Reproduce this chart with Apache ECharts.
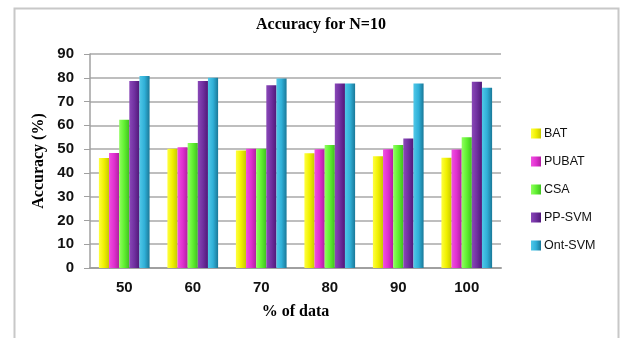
<!DOCTYPE html>
<html><head><meta charset="utf-8">
<script src="https://cdn.jsdelivr.net/npm/echarts@6/dist/echarts.min.js"></script>
<style>html,body{margin:0;padding:0;background:#fff}#c{width:621px;height:338px}</style>
</head><body><div id="c"></div>
<script>
const categories = ['50','60','70','80','90','100'];
const seriesNames = ['BAT','PUBAT','CSA','PP-SVM','Ont-SVM'];
const BAT = [46.3, 50.2, 49.4, 48.3, 47.0, 46.4];
const PUBAT = [48.4, 50.8, 50.1, 49.9, 49.9, 49.8];
const CSA = [62.4, 52.6, 50.1, 51.7, 51.7, 55.0];
const PPSVM = [78.6, 78.6, 76.9, 77.6, 54.5, 78.3];
const OntSVM = [80.8, 80.0, 79.7, 77.6, 77.6, 75.8];
const yTicks = [0,10,20,30,40,50,60,70,80,90];

const values = [BAT, PUBAT, CSA, PPSVM, OntSVM];
const colors = [
  ['#ffff40','#f0f000','#c8c800'],
  ['#f050e0','#e030d0','#b020a0'],
  ['#90ff60','#60f030','#40c020'],
  ['#8a48b8','#7030a0','#501878'],
  ['#50c8e8','#30b0d8','#1a7898']
];
const serif = 'Liberation Serif';
const chart = echarts.init(document.getElementById('c'));
chart.setOption({
  animation:false,
  title:{text:'Accuracy for N=10',left:316,top:12,textAlign:'center',
    textStyle:{fontFamily:serif,fontWeight:'bold',fontSize:16,color:'#000'}},
  graphic:[{type:'rect',left:12,top:6,shape:{width:604,height:360},
    style:{fill:'none',stroke:'#c8c8c8',lineWidth:2},silent:true}],
  legend:{orient:'vertical',left:526,top:122,itemWidth:10,itemHeight:10,itemGap:15,
    icon:'rect',textStyle:{fontFamily:'Liberation Sans',fontSize:12.5,color:'#111',padding:[0,0,0,-2]},
    data:seriesNames},
  grid:{left:90,right:120,top:54,bottom:70},
  xAxis:{type:'category',data:categories,
    axisLine:{lineStyle:{color:'#a0a0a0',width:2}},axisTick:{show:false},
    axisLabel:{fontFamily:'Liberation Sans',fontWeight:'bold',fontSize:15,color:'#111',margin:12},
    name:'% of data',nameLocation:'middle',nameGap:36,
    nameTextStyle:{fontFamily:serif,fontWeight:'bold',fontSize:16,color:'#000'}},
  yAxis:{type:'value',min:0,max:90,interval:10,
    name:'Accuracy (%)',nameLocation:'middle',nameGap:38,
    nameTextStyle:{fontFamily:serif,fontWeight:'bold',fontSize:16,color:'#000'},
    axisLine:{show:true,lineStyle:{color:'#a0a0a0',width:1.5}},
    axisTick:{show:true,length:6,lineStyle:{color:'#a0a0a0'}},
    splitLine:{lineStyle:{color:'#a8a8a8',width:1.5}},
    axisLabel:{fontFamily:'Liberation Sans',fontWeight:'bold',fontSize:15,color:'#111',margin:16,
      formatter:v=>yTicks.includes(v)?String(v):''}},
  series: seriesNames.map((n,i)=>({
    name:n,type:'bar',data:values[i],barGap:'0%',barCategoryGap:'26%',
    itemStyle:{color:new echarts.graphic.LinearGradient(0,0,1,0,[
      {offset:0,color:colors[i][0]},{offset:0.5,color:colors[i][1]},{offset:1,color:colors[i][2]}])}
  }))
});
</script></body></html>
